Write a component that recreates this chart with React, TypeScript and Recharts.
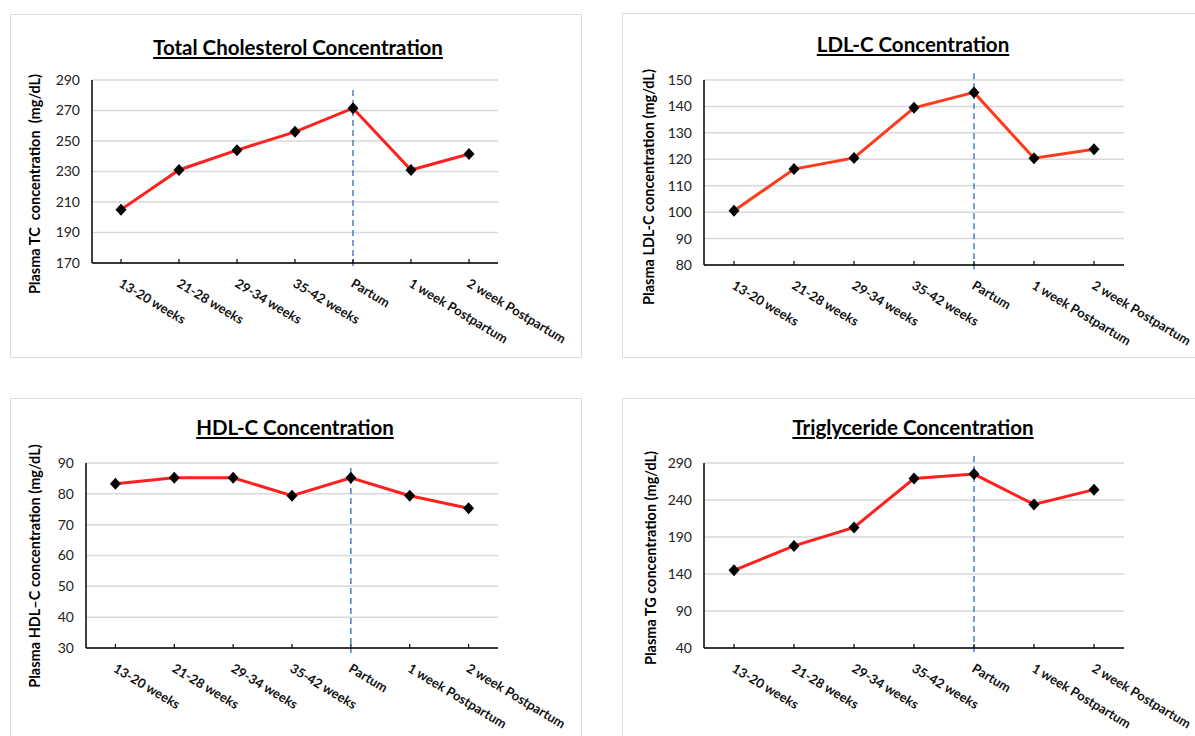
import { CartesianGrid, Line, LineChart, ReferenceLine, XAxis, YAxis } from 'recharts';

const FONT = 'Lato, "Open Sans", sans-serif';
const LINE_RED = '#ff1f1f';
const LDL_RED = '#ff3a1c';
const REF_BLUE = '#4a7bd0';
const GRID = '#d9d9d9';

const categories = [
  '13-20 weeks',
  '21-28 weeks',
  '29-34 weeks',
  '35-42 weeks',
  'Partum',
  '1 week Postpartum',
  '2 week Postpartum',
];

const tcValues = [205, 231, 244, 256, 271.5, 231, 241.5];
const ldlValues = [100.5, 116.3, 120.5, 139.5, 145.3, 120.4, 123.8];
const hdlValues = [83.3, 85.2, 85.2, 79.4, 85.2, 79.4, 75.3];
const tgValues = [145, 178, 203, 269, 275, 234, 254];

const tcTicks = [170, 190, 210, 230, 250, 270, 290];
const ldlTicks = [80, 90, 100, 110, 120, 130, 140, 150];
const hdlTicks = [30, 40, 50, 60, 70, 80, 90];
const tgTicks = [40, 90, 140, 190, 240, 290];

// where the dashed "Partum" marker starts / stops, in axis units
const tcRefSpan = [283.4, 166.7];
const ldlRefSpan = [152.6, 77.4];
const hdlRefSpan = [88.4, 28.4];
const tgRefSpan = [299.5, 33.2];

const Y_W = 40;
const X_H = 30;

type Box = { x: number; y: number; w: number; h: number };
type Plot = { l: number; r: number; t: number; b: number };

const XTick = (props: any) => {
  const { x, y, payload } = props;
  const tx = x - 3;
  const ty = y + 23;
  return (
    <g>
      <line x1={x} x2={x} y1={y} y2={y - 4} stroke="#000" strokeWidth={1.2} />
      <text
        x={tx}
        y={ty}
        transform={`rotate(31 ${tx} ${ty})`}
        textAnchor="start"
        fontSize={13}
        fontWeight={700}
        fill="#111"
        fontFamily={FONT}
      >
        {payload.value}
      </text>
    </g>
  );
};

const diamond = (props: any) => {
  const { cx, cy, index } = props;
  return (
    <path
      key={index}
      d={`M${cx},${cy - 6} L${cx + 5.5},${cy} L${cx},${cy + 6} L${cx - 5.5},${cy} Z`}
      fill="#000"
    />
  );
};

function Panel(p: {
  box: Box;
  plot: Plot;
  title: string;
  titleAt: [number, number];
  yLabel: string;
  yLabelAt: [number, number];
  values: number[];
  ticks: number[];
  refSpan: number[];
  color: string;
}) {
  const { box, plot } = p;
  const data = categories.map((c, i) => ({ name: c, value: p.values[i] }));
  const pad = (plot.r - plot.l) / 14;
  return (
    <>
      <div
        style={{
          position: 'absolute',
          left: box.x,
          top: box.y,
          width: box.w,
          height: box.h,
          border: '1.5px solid #dcdcdc',
          boxSizing: 'border-box',
        }}
      />
      <div style={{ position: 'absolute', left: box.x, top: box.y }}>
        <LineChart
          width={box.w}
          height={box.h}
          data={data}
          margin={{
            top: plot.t - box.y,
            left: plot.l - box.x - Y_W,
            right: box.x + box.w - plot.r,
            bottom: box.y + box.h - plot.b - X_H,
          }}
        >
          <CartesianGrid vertical={false} stroke={GRID} strokeWidth={1.5} />
          <XAxis
            dataKey="name"
            height={X_H}
            padding={{ left: pad, right: pad }}
            interval={0}
            tickSize={0}
            tickMargin={0}
            tickLine={false}
            axisLine={{ stroke: '#000', strokeWidth: 1.5 }}
            tick={<XTick />}
          />
          <YAxis
            width={Y_W}
            type="number"
            domain={[p.ticks[0], p.ticks[p.ticks.length - 1]]}
            ticks={p.ticks}
            interval={0}
            tickLine={false}
            tickSize={0}
            tickMargin={12}
            axisLine={{ stroke: '#000', strokeWidth: 1.5 }}
            tick={{ fontSize: 14, fill: '#222', fontFamily: FONT, fontWeight: 400 }}
          />
          <ReferenceLine
            segment={[
              { x: 'Partum', y: p.refSpan[0] },
              { x: 'Partum', y: p.refSpan[1] },
            ]}
            ifOverflow="visible"
            stroke={REF_BLUE}
            strokeWidth={1.5}
            strokeDasharray="6 4"
          />
          <Line
            type="linear"
            dataKey="value"
            stroke={p.color}
            strokeWidth={3}
            dot={diamond}
            activeDot={false}
            isAnimationActive={false}
          />
        </LineChart>
      </div>
      <div
        style={{
          position: 'absolute',
          left: p.titleAt[0],
          top: p.titleAt[1],
          transform: 'translate(-50%, -50%)',
          whiteSpace: 'nowrap',
          fontFamily: FONT,
          fontWeight: 700,
          fontSize: 20.5,
          textDecoration: 'underline',
          color: '#000',
        }}
      >
        {p.title}
      </div>
      <div
        style={{
          position: 'absolute',
          left: p.yLabelAt[0],
          top: p.yLabelAt[1],
          transform: 'translate(-50%, -50%) rotate(-90deg)',
          whiteSpace: 'pre',
          fontFamily: FONT,
          fontWeight: 700,
          fontSize: 14.5,
          color: '#000',
        }}
      >
        {p.yLabel}
      </div>
    </>
  );
}

export default function App() {
  return (
    <div
      style={{
        position: 'absolute',
        left: 0,
        top: 0,
        width: 1195,
        height: 736,
        overflow: 'hidden',
        background: '#fff',
      }}
    >
      <Panel
        box={{ x: 10, y: 14, w: 572, h: 344 }}
        plot={{ l: 92, r: 498, t: 80, b: 263 }}
        title="Total Cholesterol Concentration"
        titleAt={[298, 47]}
        yLabel="Plasma TC  concentration  (mg/dL)"
        yLabelAt={[34, 184]}
        values={tcValues}
        ticks={tcTicks}
        refSpan={tcRefSpan}
        color={LINE_RED}
      />
      <Panel
        box={{ x: 622, y: 13, w: 590, h: 345 }}
        plot={{ l: 704, r: 1124, t: 80, b: 265 }}
        title="LDL-C Concentration"
        titleAt={[913, 44]}
        yLabel="Plasma LDL-C concentration (mg/dL)"
        yLabelAt={[648, 187]}
        values={ldlValues}
        ticks={ldlTicks}
        refSpan={ldlRefSpan}
        color={LDL_RED}
      />
      <Panel
        box={{ x: 10, y: 398, w: 572, h: 360 }}
        plot={{ l: 86, r: 498, t: 463, b: 648 }}
        title="HDL-C Concentration"
        titleAt={[295, 427]}
        yLabel="Plasma HDL–C concentration (mg/dL)"
        yLabelAt={[34, 566]}
        values={hdlValues}
        ticks={hdlTicks}
        refSpan={hdlRefSpan}
        color={LINE_RED}
      />
      <Panel
        box={{ x: 622, y: 398, w: 590, h: 360 }}
        plot={{ l: 704, r: 1124, t: 463, b: 648 }}
        title="Triglyceride Concentration"
        titleAt={[913, 427]}
        yLabel="Plasma TG concentration (mg/dL)"
        yLabelAt={[650, 558]}
        values={tgValues}
        ticks={tgTicks}
        refSpan={tgRefSpan}
        color={LINE_RED}
      />
    </div>
  );
}
